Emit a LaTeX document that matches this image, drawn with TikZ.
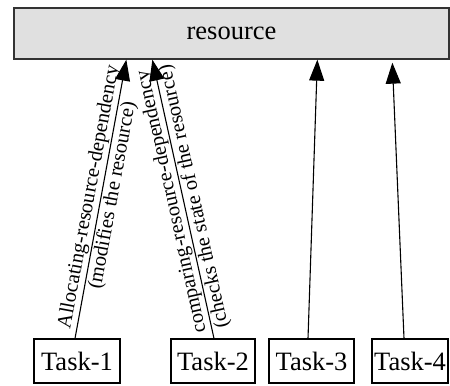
\documentclass[tikz,border=0pt]{standalone}
\usepackage{fontspec}
\setmainfont{Liberation Serif}
\usetikzlibrary{arrows.meta,calc}
\begin{document}
\begin{tikzpicture}[x=1bp,y=-1bp,
  resbox/.style={draw=black!80,line width=1.3bp,fill=black!12,minimum width=435bp,minimum height=51bp,inner sep=0pt,
    font=\fontsize{26.5bp}{30bp}\selectfont},
  taskbox/.style={draw=black,line width=1.1bp,fill=white,minimum height=44bp,inner sep=0pt,
    font=\fontsize{26.5bp}{30bp}\selectfont},
  dep/.style={line width=1.1bp,-{Triangle[length=21bp,width=15bp]}},
  lbl/.style={sloped,inner sep=1.5bp,font=\fontsize{20.5bp}{24bp}\selectfont}]
  \useasboundingbox (0,0) rectangle (450,385);
  % shared resource on top
  \node[resbox] (res) at (231.5,33.5) {resource};
  % tasks along the bottom
  \node[taskbox,minimum width=86bp] (t1) at (77,361) {Task-1};
  \node[taskbox,minimum width=84bp] (t2) at (213,361) {Task-2};
  \node[taskbox,minimum width=85bp] (t3) at (311.5,361) {Task-3};
  \node[taskbox,minimum width=76bp] (t4) at (410,361) {Task-4};
  % dependencies of each task on the resource
  \draw[dep] ($(t1.north)+(-2,0)$) -- ($(res.south west)+(113,0)$)
    node[lbl,pos=0.5,above] {Allocating-resource-dependency}
    node[lbl,pos=0.52,below] {(modifies the resource)};
  \draw[dep] ($(t2.north)+(1,0)$) -- ($(res.south west)+(139,0)$)
    node[lbl,allow upside down,pos=0.5,above] {comparing-resource-dependency}
    node[lbl,allow upside down,pos=0.5,below] {(checks the state of the resource)};
  \draw[dep] ($(t3.north)+(-3.5,0)$) -- ($(res.south west)+(304,0)$);
  \draw[dep] ($(t4.north)+(-6,0)$) -- ($(res.south west)+(379,3)$);
\end{tikzpicture}
\end{document}
